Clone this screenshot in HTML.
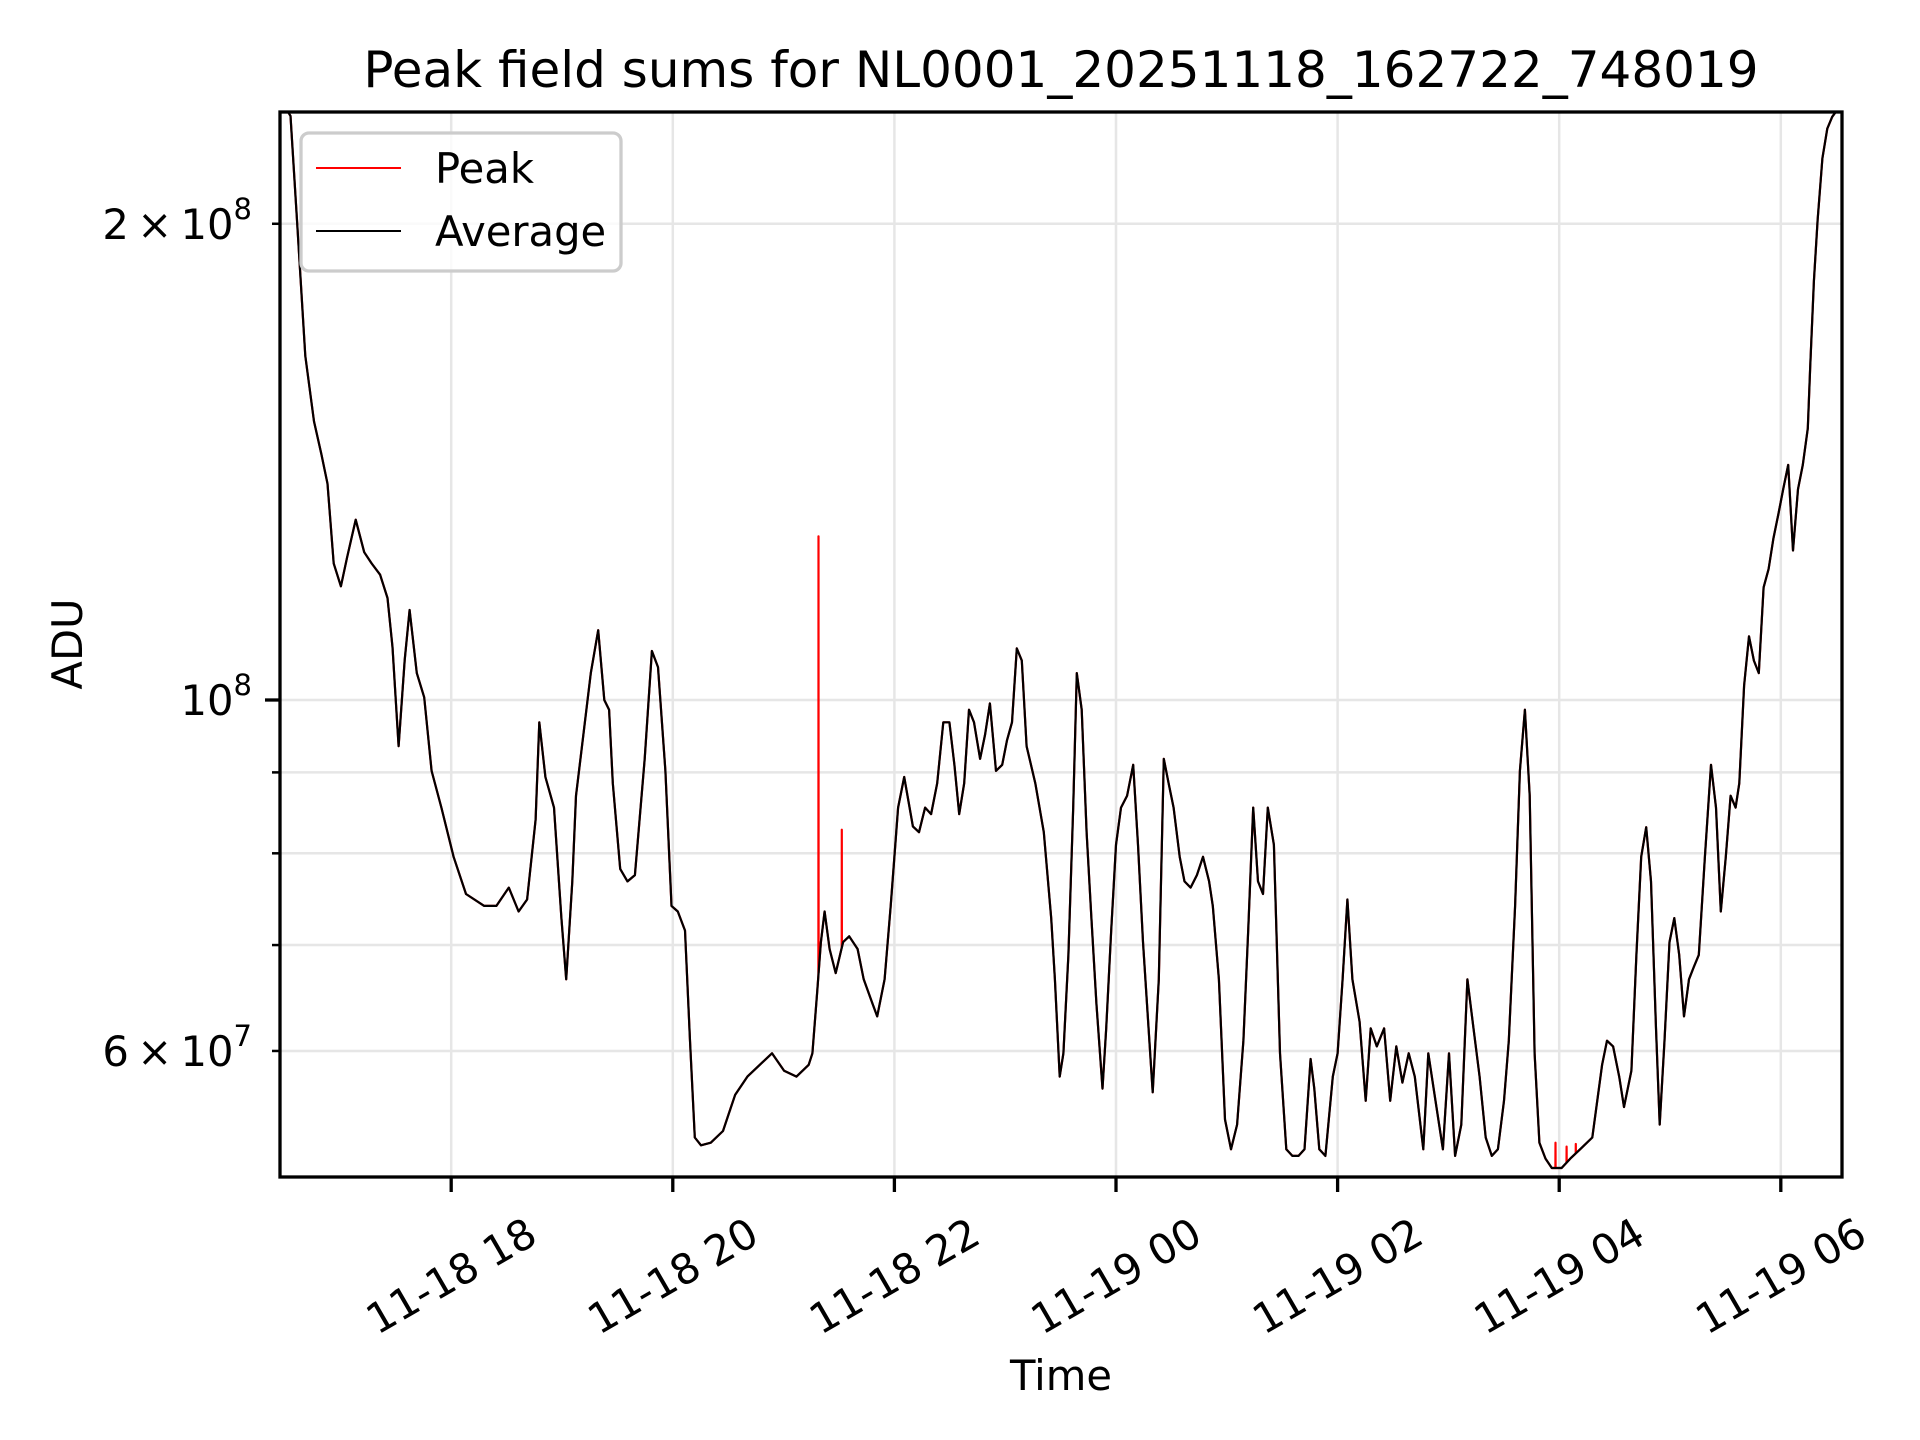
<!DOCTYPE html>
<html><head><meta charset="utf-8"><style>
html,body{margin:0;padding:0;background:#fff;}
svg{display:block;font-family:"DejaVu Sans","Liberation Sans",sans-serif;}
</style></head><body>
<svg id="chart" width="1920" height="1440" viewBox="0 0 1920 1440" xmlns="http://www.w3.org/2000/svg">
<rect x="0" y="0" width="1920" height="1440" fill="#fff"/>
<defs><clipPath id="plotclip"><rect x="280" y="112" width="1562" height="1065"/></clipPath></defs>
<g id="grid"></g>
<g id="series" clip-path="url(#plotclip)"></g>
<rect x="280" y="112" width="1562" height="1065" fill="none" stroke="#000" stroke-width="3.3"/>
<g id="ticks"></g>
<text x="1061" y="87" font-size="50" text-anchor="middle">Peak field sums for NL0001_20251118_162722_748019</text>
<text x="1061" y="1390" font-size="41.7" text-anchor="middle">Time</text>
<text x="0" y="0" font-size="41.7" text-anchor="middle" transform="translate(82,644) rotate(-90)">ADU</text>
<g>
<rect x="301" y="133" width="320" height="138" rx="8" fill="#fff" fill-opacity="0.8" stroke="#cccccc" stroke-width="3.3"/>
<line x1="316" y1="168" x2="401" y2="168" stroke="#ff0000" stroke-width="2"/>
<text x="435" y="183" font-size="41.7">Peak</text>
<line x1="316" y1="231" x2="401" y2="231" stroke="#000" stroke-width="2"/>
<text x="435" y="246" font-size="41.7">Average</text>
</g>
</svg>
<script>
// minutes since 11-18 16:00
const avgMinutes = [27.2,33,36.5,41,45.7,49.7,53,56.4,60.3,63.6,68.3,72.9,76.9,81.5,85.5,88.2,91.5,94.8,97.5,101.4,105.4,109.4,114.7,121.3,128,137.9,144.5,151.2,156.5,161.1,165.7,167.7,171,175.7,179.7,182.3,185.6,187.6,191.6,195.6,199.6,202.9,205.5,207.5,211.5,215.5,219.5,224.8,228.7,232,236,239.3,242.7,246.6,249.3,251.9,255.3,260.6,267.2,273.8,280.4,287.1,293.7,300.3,307,313.6,315.6,318.2,320.2,322.2,324.9,328.2,332.2,335.5,340.1,343.4,348.1,350.7,354.7,358,362,365.3,370,373.3,376.6,379.9,383.2,386.5,389.8,392.5,395.1,397.8,400.4,403.1,406.4,409.1,411.7,415,418.4,421,423.7,426.3,429,431.6,436.3,440.9,444.9,446.9,449.5,451.5,454.2,456.8,458.8,461.4,464.1,466.7,469.4,472.7,474.7,477.4,480,482.7,486,489.3,491.9,494.6,497.2,499.9,503.2,505.9,508.5,511.2,514.5,517.1,520.4,523.8,527.1,530.4,532.4,535.7,539,542.3,545.6,549,551.6,554.3,556.9,559.6,562.2,565.5,568.8,572.2,575.5,578.8,582.1,585.4,587.4,590.1,593.4,597.4,600,602.7,605.3,608,611.9,615.2,617.9,621.2,625.2,628.5,631.8,635.1,638.5,641.8,646.4,649.1,653,657,660.3,663.6,667,670.3,673.6,676.9,680.2,683.5,686.8,690.1,692.7,696.1,698.7,701.4,704,706.7,709.3,712.6,716,721.3,726,731.3,737.9,743.2,745.9,749.2,752.5,755.1,759.1,761.8,764.4,767.1,769.7,772.4,774.4,777,779.7,782.3,785,787.6,790.3,792.9,795.6,798.9,802.2,804.9,807.5,810.2,812.8,815.5,817.5,820.1,822.8,825.4,828.1,830.7,833.4,836,838.7,841.3,844,846.6,849.3,851.9,854.6,855.9,857.9,859.9,862.5,865.2,867.8,870.5,872.5];
// average values in units of 1e7 ADU
const avgValues = [24.0,23.4,20.1,16.5,15.0,14.3,13.7,12.2,11.8,12.3,13.0,12.4,12.2,12.0,11.6,10.8,9.35,10.6,11.4,10.4,10.04,9.02,8.55,7.96,7.54,7.41,7.41,7.61,7.35,7.48,8.40,9.68,8.94,8.55,7.28,6.66,7.68,8.70,9.51,10.40,11.07,10.0,9.86,8.86,7.82,7.68,7.75,9.18,10.74,10.49,9.02,7.41,7.35,7.15,6.09,5.29,5.23,5.25,5.34,5.63,5.78,5.88,5.98,5.83,5.78,5.88,5.98,6.54,7.03,7.35,6.96,6.72,7.03,7.09,6.96,6.66,6.43,6.31,6.66,7.41,8.55,8.94,8.32,8.25,8.55,8.47,8.86,9.68,9.68,9.10,8.47,8.86,9.86,9.68,9.18,9.51,9.95,9.02,9.10,9.43,9.68,10.78,10.59,9.35,8.86,8.25,7.28,6.66,5.78,5.98,6.90,8.55,10.40,9.86,8.25,7.28,6.43,5.68,6.20,7.15,8.10,8.55,8.70,9.10,8.10,7.03,6.31,5.65,6.66,9.18,8.86,8.55,7.96,7.68,7.61,7.75,7.96,7.68,7.41,6.66,5.43,5.20,5.39,6.09,7.15,8.55,7.68,7.54,8.55,8.10,5.98,5.20,5.15,5.15,5.20,5.93,5.68,5.20,5.15,5.78,5.98,6.66,7.48,6.66,6.26,5.58,6.20,6.04,6.20,5.58,6.04,5.73,5.98,5.78,5.20,5.98,5.58,5.20,5.98,5.15,5.39,6.66,6.20,5.78,5.29,5.15,5.20,5.58,6.09,7.41,9.02,9.86,8.70,5.98,5.25,5.13,5.06,5.06,5.13,5.20,5.29,5.88,6.09,6.04,5.78,5.53,5.83,6.90,7.96,8.31,7.68,6.20,5.39,6.09,7.03,7.28,6.90,6.31,6.66,6.78,6.90,7.96,9.10,8.55,7.35,7.96,8.70,8.55,8.86,10.21,10.97,10.59,10.40,11.78,12.10,12.65,13.11,13.59,14.08,12.43,13.59,14.08,14.85,16.24,18.4,20.1,22.0,22.97,23.37,23.6,23.8];
// peak-only spikes (minutes, value 1e7)
const spikeMinutes = [271,318.9,331.5,718,724,729];
const spikeValues = [5.5,12.69,8.28,5.25,5.22,5.24];
const xTickMinutes = [120,240,360,480,600,720,840];
const xTickLabels = ["11-18 18","11-18 20","11-18 22","11-19 00","11-19 02","11-19 04","11-19 06"];
const yTickValues = [2e8,1e8,6e7];
const yTickMant = ["2\u2009\u00d7\u200910","10","6\u2009\u00d7\u200910"];
const yTickExp = ["8","8","7"];
const yMinorValues = [6e7,7e7,8e7,9e7,2e8];

const NS="http://www.w3.org/2000/svg";
function xScale(m){return 1116+(m-480)*1.8467;}
function yScale(v){return 700-1582*Math.log10(v/1e8);}
function mk(tag,attrs,parent){const e=document.createElementNS(NS,tag);for(const k in attrs)e.setAttribute(k,attrs[k]);parent.appendChild(e);return e;}

const grid=document.getElementById('grid'),ticks=document.getElementById('ticks'),series=document.getElementById('series');
xTickMinutes.forEach((m,i)=>{
  const x=xScale(m);
  const g=mk('line',{x1:x,x2:x,y1:112,y2:1177,stroke:'#e6e6e6','stroke-width':2.5},grid);
  
  
  const t=mk('line',{x1:x,x2:x,y1:1177,y2:1192,stroke:'#000','stroke-width':3.3},ticks);
  
  
  const l=mk('text',{x:0,y:0,'font-size':41.7,'text-anchor':'middle','dominant-baseline':'central',transform:`translate(${x},1276) rotate(-30)`},ticks);
  l.textContent=xTickLabels[i];
  
  
});
yMinorValues.forEach(v=>{
  const y=yScale(v);
  const g=mk('line',{x1:280,x2:1842,y1:y,y2:y,stroke:'#e6e6e6','stroke-width':2.5},grid);
  
  
  const t=mk('line',{x1:272,x2:280,y1:y,y2:y,stroke:'#000','stroke-width':2.5},ticks);
  
  
});
{
  const y=yScale(1e8);
  const g=mk('line',{x1:280,x2:1842,y1:y,y2:y,stroke:'#e6e6e6','stroke-width':2.5},grid);
  
  
  const t=mk('line',{x1:265,x2:280,y1:y,y2:y,stroke:'#000','stroke-width':3.3},ticks);
  
  
}
yTickValues.forEach((v,i)=>{
  const y=yScale(v);
  const l=mk('text',{x:252,y:y+15,'font-size':41.7,'text-anchor':'end'},ticks);
  
  
  const a=mk('tspan',{},l);a.textContent=yTickMant[i];
  const b=mk('tspan',{'font-size':29,dy:-20},l);b.textContent=yTickExp[i];
});

function interp(m){
  for(let i=1;i<avgMinutes.length;i++){if(avgMinutes[i]>=m){const f=(m-avgMinutes[i-1])/(avgMinutes[i]-avgMinutes[i-1]);return avgValues[i-1]+f*(avgValues[i]-avgValues[i-1]);}}
  return avgValues[avgValues.length-1];
}
let peakPts=avgMinutes.map((m,i)=>[m,avgValues[i]]);
spikeMinutes.forEach((m,i)=>{peakPts.push([m-0.05,interp(m-0.05)]);peakPts.push([m,spikeValues[i]]);peakPts.push([m+0.05,interp(m+0.05)]);});
peakPts.sort((a,b)=>a[0]-b[0]);
function pathFrom(pts){return pts.map((p,i)=>(i?'L':'M')+xScale(p[0]).toFixed(1)+','+yScale(p[1]*1e7).toFixed(1)).join('');}
const pk=mk('path',{d:pathFrom(peakPts),fill:'none',stroke:'#ff0000','stroke-width':2.2,'stroke-linejoin':'round'},series);


const av=mk('path',{d:pathFrom(avgMinutes.map((m,i)=>[m,avgValues[i]])),fill:'none',stroke:'#000','stroke-width':2.2,'stroke-linejoin':'round'},series);


</script>
</body></html>
